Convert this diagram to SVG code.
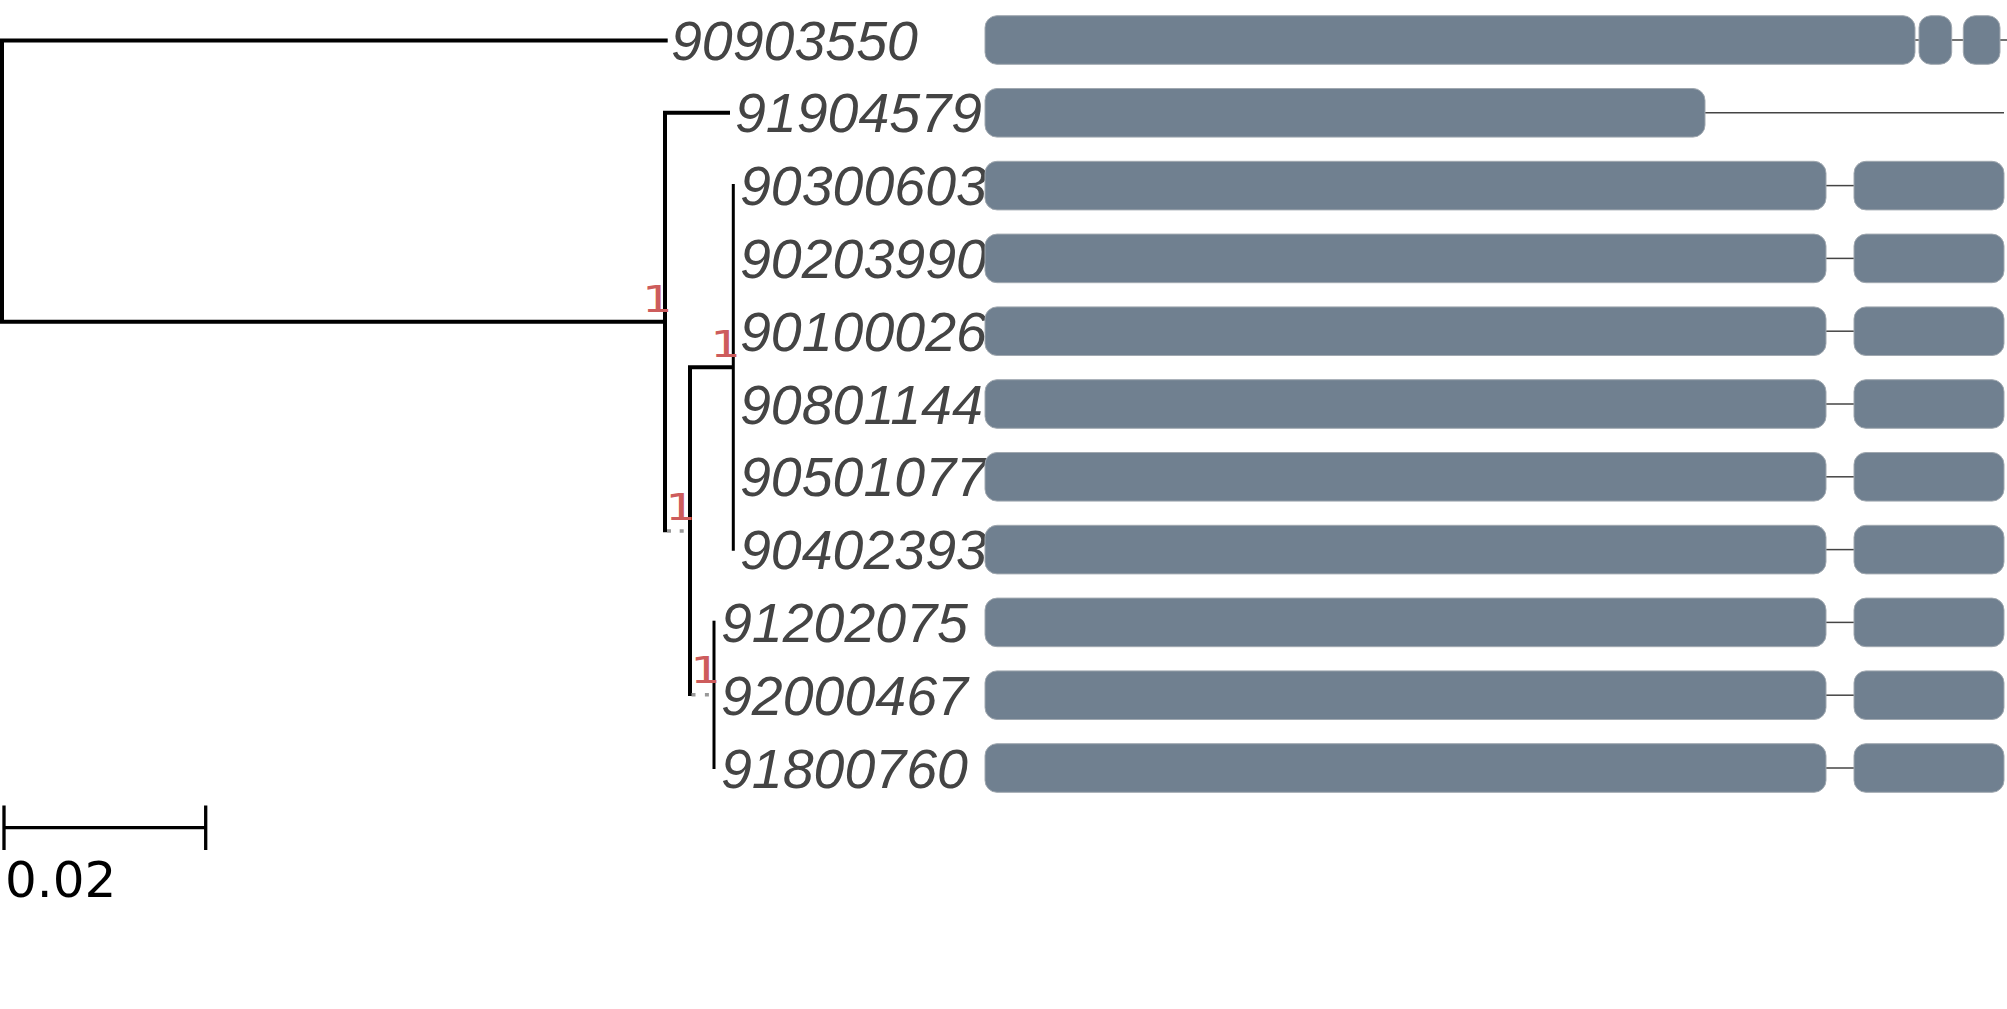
<svg xmlns="http://www.w3.org/2000/svg" width="2007" height="1009" viewBox="0 0 2007 1009">
<style>
.leaf{font-family:"Liberation Sans",Arial,sans-serif;font-style:italic;font-size:55.5px;fill:#444444}
.sup{font-family:"DejaVu Sans Mono",monospace;font-size:37px;fill:#cd5c5c}
.box{fill:#708090;stroke:#a0a8b0;stroke-width:1}
.ln{stroke:#444;stroke-width:1.5;fill:none}
.br{stroke:#000;fill:none;stroke-width:4;stroke-linejoin:miter}
.thin{stroke:#000;fill:none;stroke-width:3}
.dot{stroke:#999;stroke-width:3.5;fill:none}
.scale{font-family:"DejaVu Sans",sans-serif;font-size:50px;fill:#000}
</style>
<rect width="2007" height="1009" fill="#ffffff"/>
<g id="connectors">
<path class="br" d="M667.7 40.5 H2 V321.7 H665"/>
<path class="br" stroke-width="3.5" d="M730 112.7 H665 V532.3"/>
<path class="br" stroke-width="3.5" d="M733 367.3 H690 V696"/>
<path class="thin" d="M733.3 184 V550.7"/>
<path class="thin" d="M714 620.7 V769"/>
<line class="dot" x1="667" y1="531" x2="688" y2="531" stroke-dasharray="4 8.7"/>
<line class="dot" x1="691.5" y1="694.7" x2="712" y2="694.7" stroke-dasharray="4 9.4"/>
</g>
<g id="support">
<text id="s1" class="sup" transform="translate(641.5 311.5) scale(1.35 1)">1</text>
<text id="s2" class="sup" transform="translate(709.8 356.5) scale(1.35 1)">1</text>
<text id="s3" class="sup" transform="translate(664.8 520) scale(1.35 1)">1</text>
<text id="s4" class="sup" transform="translate(689.8 683) scale(1.35 1)">1</text>
</g>
<g id="n90903550">
<text class="leaf" x="671" y="59.5">90903550</text>
<line class="ln" x1="1915" y1="40" x2="2007" y2="40"/>
<rect class="box" x="985" y="15.7" width="930" height="48.6" rx="12"/>
<rect class="box" x="1919" y="15.7" width="32.7" height="48.6" rx="12"/>
<rect class="box" x="1963.3" y="15.7" width="36.7" height="48.6" rx="12"/>
</g>
<g id="n91904579">
<text class="leaf" x="735" y="132.3">91904579</text>
<line class="ln" stroke="#666" x1="1705" y1="112.8" x2="2004" y2="112.8"/>
<rect class="box" x="985" y="88.5" width="720" height="48.6" rx="12"/>
</g>
<g id="n90300603">
<text class="leaf" x="740" y="205.1">90300603</text>
<line class="ln" x1="1826" y1="185.6" x2="1854" y2="185.6"/>
<rect class="box" x="985" y="161.3" width="841" height="48.6" rx="12"/>
<rect class="box" x="1854" y="161.3" width="150" height="48.6" rx="12"/>
</g>
<g id="n90203990">
<text class="leaf" x="740" y="277.9">90203990</text>
<line class="ln" x1="1826" y1="258.4" x2="1854" y2="258.4"/>
<rect class="box" x="985" y="234.1" width="841" height="48.6" rx="12"/>
<rect class="box" x="1854" y="234.1" width="150" height="48.6" rx="12"/>
</g>
<g id="n90100026">
<text class="leaf" x="740" y="350.7">90100026</text>
<line class="ln" x1="1826" y1="331.2" x2="1854" y2="331.2"/>
<rect class="box" x="985" y="306.9" width="841" height="48.6" rx="12"/>
<rect class="box" x="1854" y="306.9" width="150" height="48.6" rx="12"/>
</g>
<g id="n90801144">
<text class="leaf" x="740" y="423.5">90801144</text>
<line class="ln" x1="1826" y1="404" x2="1854" y2="404"/>
<rect class="box" x="985" y="379.7" width="841" height="48.6" rx="12"/>
<rect class="box" x="1854" y="379.7" width="150" height="48.6" rx="12"/>
</g>
<g id="n90501077">
<text class="leaf" x="740" y="496.3">90501077</text>
<line class="ln" x1="1826" y1="476.8" x2="1854" y2="476.8"/>
<rect class="box" x="985" y="452.5" width="841" height="48.6" rx="12"/>
<rect class="box" x="1854" y="452.5" width="150" height="48.6" rx="12"/>
</g>
<g id="n90402393">
<text class="leaf" x="740" y="569.1">90402393</text>
<line class="ln" x1="1826" y1="549.6" x2="1854" y2="549.6"/>
<rect class="box" x="985" y="525.3" width="841" height="48.6" rx="12"/>
<rect class="box" x="1854" y="525.3" width="150" height="48.6" rx="12"/>
</g>
<g id="n91202075">
<text class="leaf" x="721" y="641.9">91202075</text>
<line class="ln" x1="1826" y1="622.4" x2="1854" y2="622.4"/>
<rect class="box" x="985" y="598.1" width="841" height="48.6" rx="12"/>
<rect class="box" x="1854" y="598.1" width="150" height="48.6" rx="12"/>
</g>
<g id="n92000467">
<text class="leaf" x="721" y="714.7">92000467</text>
<line class="ln" x1="1826" y1="695.2" x2="1854" y2="695.2"/>
<rect class="box" x="985" y="670.9" width="841" height="48.6" rx="12"/>
<rect class="box" x="1854" y="670.9" width="150" height="48.6" rx="12"/>
</g>
<g id="n91800760">
<text class="leaf" x="721" y="787.5">91800760</text>
<line class="ln" x1="1826" y1="768" x2="1854" y2="768"/>
<rect class="box" x="985" y="743.7" width="841" height="48.6" rx="12"/>
<rect class="box" x="1854" y="743.7" width="150" height="48.6" rx="12"/>
</g>
<g id="scalebar">
<path stroke="#000" stroke-width="3.3" fill="none" d="M4 805.5 V850 M4 827.7 H205.7 M205.7 805.5 V850"/>
<text class="scale" x="5" y="897">0.02</text>
</g>
</svg>
